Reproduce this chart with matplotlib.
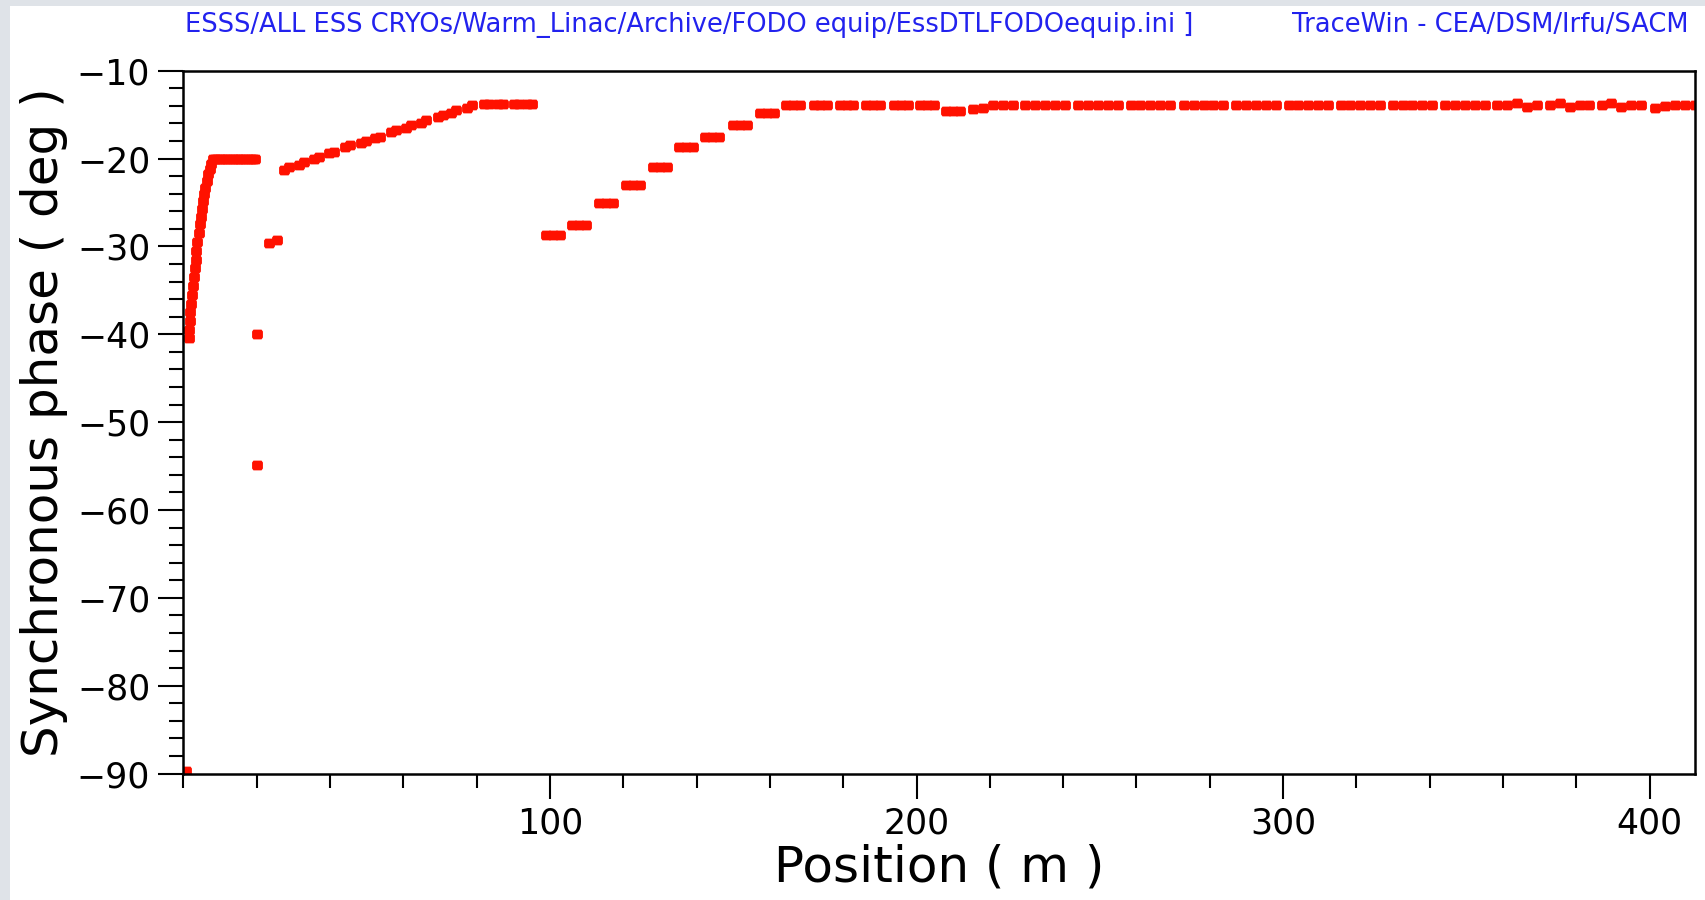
import matplotlib
matplotlib.use('Agg')
import matplotlib.pyplot as plt
from matplotlib.ticker import MultipleLocator
from matplotlib.patches import Rectangle

# position (m) vs synchronous phase (deg)
pos_start = [0.8]
phs_start = [-89.7]

pos_rise = [1.4, 1.5, 1.7, 1.9, 2.1, 2.4, 2.6, 2.9, 3.1, 3.3, 3.5, 3.8, 4.1, 4.4,
            4.7, 5.0, 5.3, 5.6, 5.9, 6.3, 6.7, 7.1, 7.5, 8.0]
phs_rise = [-40.4, -39.5, -38.5, -37.5, -36.5, -35.5, -34.5, -33.5, -32.5, -31.5,
            -30.5, -29.5, -28.5, -27.5, -26.6, -25.7, -24.8, -24.0, -23.3, -22.5,
            -21.8, -21.2, -20.6, -20.1]

pos_flat = [8.5, 9.2, 9.9, 10.6, 11.3, 12.0, 12.7, 13.4, 14.1, 14.8, 15.5, 16.2,
            16.9, 17.6, 18.3, 19.0, 19.4]
phs_flat = [-20.0] * len(pos_flat)

pos_single = [20.0, 20.1, 23.4, 25.4]
phs_single = [-40.0, -54.9, -29.6, -29.3]

pos_dtl = [27.5, 28.9, 31.4, 32.8, 35.6, 37.0, 39.6, 41.0, 44.1, 45.5, 48.4, 49.8,
           52.2, 53.6, 56.6, 58.0, 60.6, 62.2, 64.8, 66.2, 69.4, 70.8, 73.0, 74.4,
           77.4, 78.8, 82.0, 83.4, 85.8, 87.2, 90.1, 91.5, 93.8, 95.2]
phs_dtl = [-21.3, -21.0, -20.7, -20.4, -20.0, -19.8, -19.4, -19.2, -18.7, -18.5,
           -18.2, -18.0, -17.7, -17.5, -17.0, -16.8, -16.5, -16.2, -15.9, -15.6,
           -15.3, -15.0, -14.8, -14.5, -14.2, -13.9, -13.8, -13.8, -13.8, -13.8,
           -13.8, -13.8, -13.8, -13.8]

pos_spoke = [98.9, 100.8, 102.7, 106.1, 108.0, 109.9, 113.3, 115.2, 117.1,
             120.7, 122.6, 124.5, 128.1, 130.0, 131.9, 135.2, 137.1, 139.0,
             142.3, 144.2, 146.1, 150.0, 151.9, 153.8, 157.2, 159.1, 161.0,
             164.3, 166.2, 168.1, 171.9, 173.8, 175.7, 179.0, 180.9, 182.8,
             186.1, 188.0, 189.9, 193.8, 195.7, 197.6, 200.9, 202.8, 204.7,
             208.0, 209.9, 211.8]
phs_spoke = [-28.7] * 3 + [-27.55] * 3 + [-25.1] * 3 + [-23.0] * 3 + [-21.0] * 3 \
    + [-18.7] * 3 + [-17.6] * 3 + [-16.2] * 3 + [-14.85] * 3 + [-13.9] * 18 \
    + [-14.6] * 3

pos_ellip = [215.4, 218.1, 220.8, 223.5, 226.2,
             229.7, 232.4, 235.1, 237.8, 240.5,
             244.1, 246.8, 249.5, 252.2, 254.9,
             258.4, 261.1, 263.8, 266.5, 269.2,
             272.9, 275.6, 278.3, 281.0, 283.7,
             287.2, 289.9, 292.6, 295.3, 298.0,
             301.5, 304.2, 306.9, 309.6, 312.3,
             315.7, 318.4, 321.1, 323.8, 326.5,
             329.9, 332.6, 335.3, 338.0, 340.7,
             344.3, 347.0, 349.7, 352.4, 355.1,
             358.4, 361.1, 363.8, 366.5, 369.2,
             372.8, 375.5, 378.2, 380.9, 383.6,
             386.9, 389.6, 392.3, 395.0, 397.7,
             401.5, 404.2, 406.9, 409.6, 412.3]
phs_ellip = [-14.4, -14.2, -13.9, -13.9, -13.9] + [-13.9] * 45 \
    + [-13.9, -13.9, -13.7, -14.1, -13.9] \
    + [-13.9, -13.7, -14.1, -13.9, -13.9] \
    + [-13.9, -13.7, -14.1, -13.9, -13.9] \
    + [-14.3, -14.0, -13.9, -13.9, -13.9]

header_left = 'ESSS/ALL ESS CRYOs/Warm_Linac/Archive/FODO equip/EssDTLFODOequip.ini ]'
header_right = 'TraceWin - CEA/DSM/Irfu/SACM'

fig = plt.figure(figsize=(17.06, 9.0), dpi=100, facecolor='#dfe3e8')
# white page with grey window edge on left and top
fig.patches.append(Rectangle((10 / 1706, 0), 1, 1 - 6 / 900, transform=fig.transFigure,
                             facecolor='white', edgecolor='none', zorder=-5))

ax = fig.add_axes([183.5 / 1706, 126.5 / 900, (1695 - 183.5) / 1706, (773.5 - 70.7) / 900])
ax.set_zorder(2)

# slightly wide, clipped-corner blob like the TraceWin pixel markers
blob = [(-0.75, -0.9), (0.75, -0.9), (1, -0.55), (1, 0.55), (0.75, 0.9),
        (-0.75, 0.9), (-1, 0.55), (-1, -0.55), (-0.75, -0.9)]

red = '#ff1100'
for xs, ys in [(pos_start, phs_start), (pos_rise, phs_rise), (pos_flat, phs_flat),
               (pos_single, phs_single), (pos_dtl, phs_dtl), (pos_spoke, phs_spoke),
               (pos_ellip, phs_ellip)]:
    ax.plot(xs, ys, linestyle='none', marker=blob, color=red, markersize=7.8,
            markeredgewidth=0)

ax.set_xlim(0, 412.4)
ax.set_ylim(-90, -10)
ax.xaxis.set_major_locator(MultipleLocator(100))
ax.xaxis.set_minor_locator(MultipleLocator(20))
ax.yaxis.set_major_locator(MultipleLocator(10))
ax.yaxis.set_minor_locator(MultipleLocator(2))
ax.tick_params(which='major', direction='out', length=18, width=1.5, labelsize=25,
               pad=6)
ax.tick_params(which='minor', direction='out', length=10, width=1.5)
ax.set_xticks([100, 200, 300, 400])
for s in ax.spines.values():
    s.set_linewidth(1.8)

ax.set_xlabel('Position ( m )', fontsize=36, labelpad=2)
ax.set_ylabel('Synchronous phase ( deg )', fontsize=36, labelpad=6)

fig.text(185 / 1706, 1 - 25 / 900, header_left, color='#2222ee', fontsize=18.5,
         va='center', ha='left')
fig.text(1689 / 1706, 1 - 25 / 900, header_right, color='#2222ee', fontsize=18.5,
         va='center', ha='right')

fig.savefig('out.png', dpi=100, facecolor=fig.get_facecolor())
